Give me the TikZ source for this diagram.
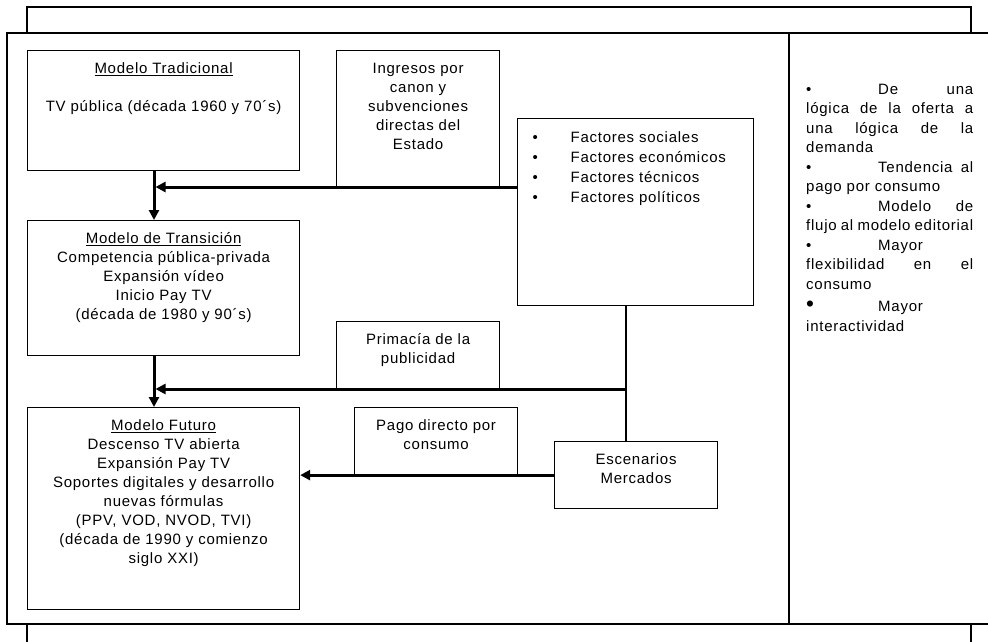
\documentclass[tikz,border=0pt]{standalone}
\usepackage{fontspec}
\setmainfont{Liberation Sans}[LetterSpace=5]
\usetikzlibrary{arrows.meta,positioning}
\newcommand{\caja}[3]{\parbox[c][#2][t]{#1}{\centering\rule{0pt}{23pt}#3}}
\newcommand{\vin}{\makebox[72pt][l]{\textbullet}}
\newcommand{\renglon}[1]{\hbox to\hsize{\rule{0pt}{12pt}#1}}
\newcommand{\fac}[1]{\hspace*{15pt}\makebox[38pt][l]{\textbullet}#1}

\begin{document}
\begin{tikzpicture}[x=1pt, y=-1pt,
                caja/.style={draw, line width=1.2pt, inner sep=0pt, anchor=north west},
                flecha/.style={line width=3pt, -{Triangle[length=10pt,width=10pt]}},
                every node/.style={font=\fontsize{15}{19}\selectfont}]
  \useasboundingbox (0,0) rectangle (988,641);
  \draw[line width=1.3pt] (27,33) -- (27,7) -- (971,7) -- (971,33);
  \draw[line width=1.3pt] (1000,33) -- (7,33) -- (7,624) -- (1000,624);
  \draw[line width=1.3pt] (789,33) -- (789,624);
  \draw[line width=1.3pt] (27,624) -- (27,650) (971,624) -- (971,650);

  \node[caja] (trad) at (27,50) {\caja{272pt}{120pt}{\underline{Modelo Tradicional}\\[19pt]
      TV pública (década 1960 y 70´s)}};
  \node[caja] (ing) at (336,50) {\caja{163pt}{137pt}{Ingresos por\\ canon y\\ subvenciones\\ directas del\\ Estado}};
  \node[caja] (fac) at (517,118) {\parbox[c][187pt][t]{236pt}{\rule{0pt}{24pt}\fac{Factores sociales}\\[1pt]
      \fac{Factores económicos}\\[1pt] \fac{Factores técnicos}\\[1pt] \fac{Factores políticos}}};
  \node[caja] (trans) at (27,220) {\caja{272pt}{135pt}{\underline{Modelo de Transición}\\
      Competencia pública-privada\\ Expansión vídeo\\ Inicio Pay TV\\ (década de 1980 y 90´s)}};
  \node[caja] (prim) at (336,321) {\caja{163pt}{68pt}{Primacía de la\\ publicidad}};
  \node[caja] (fut) at (27,407) {\caja{272pt}{202pt}{\underline{Modelo Futuro}\\ Descenso TV abierta\\
      Expansión Pay TV\\ Soportes digitales y desarrollo\\ nuevas fórmulas\\ (PPV, VOD, NVOD, TVI)\\
      (década de 1990 y comienzo\\ siglo XXI)}};
  \node[caja] (pago) at (354,407) {\caja{163pt}{67pt}{Pago directo por\\ consumo}};
  \node[caja] (esc) at (554,441) {\caja{163pt}{67pt}{Escenarios\\ Mercados}};

  \node[anchor=north west, inner sep=0pt] (tend) at (806,82) {\parbox[t]{167pt}{\baselineskip=19.5pt
      \renglon{\vin De\hfill una}
      \renglon{lógica\hfill de\hfill la\hfill oferta\hfill a}
      \renglon{una\hfill lógica\hfill de\hfill la}
      \renglon{demanda\hfill}
      \renglon{\vin Tendencia\hfill al}
      \renglon{pago por consumo\hfill}
      \renglon{\vin Modelo\hfill de}
      \renglon{flujo al modelo editorial}
      \renglon{\vin Mayor\hfill}
      \renglon{flexibilidad\hfill en\hfill el}
      \renglon{consumo\hfill}
      \vskip3pt
      \renglon{\makebox[72pt][l]{\scalebox{1.5}{\textbullet}}Mayor\hfill}
      \renglon{interactividad\hfill}}};

  \coordinate (v1) at (154,187);
  \coordinate (v2) at (154,389);
  \coordinate (e) at (626,389);
  \draw[flecha] (trad.south -| v1) -- (trans.north -| v1);
  \draw[flecha] (trans.south -| v2) -- (fut.north -| v2);
  \draw[flecha, shorten >=1.5pt] (fac.west |- v1) -- (v1);
  \draw[line width=1.5pt] (fac.south -| e) -- (esc.north -| e);
  \draw[flecha, shorten >=1.5pt] (e) -- (v2);
  \draw[flecha] (esc.west) -- (fut.east |- esc.west);
\end{tikzpicture}
\end{document}
